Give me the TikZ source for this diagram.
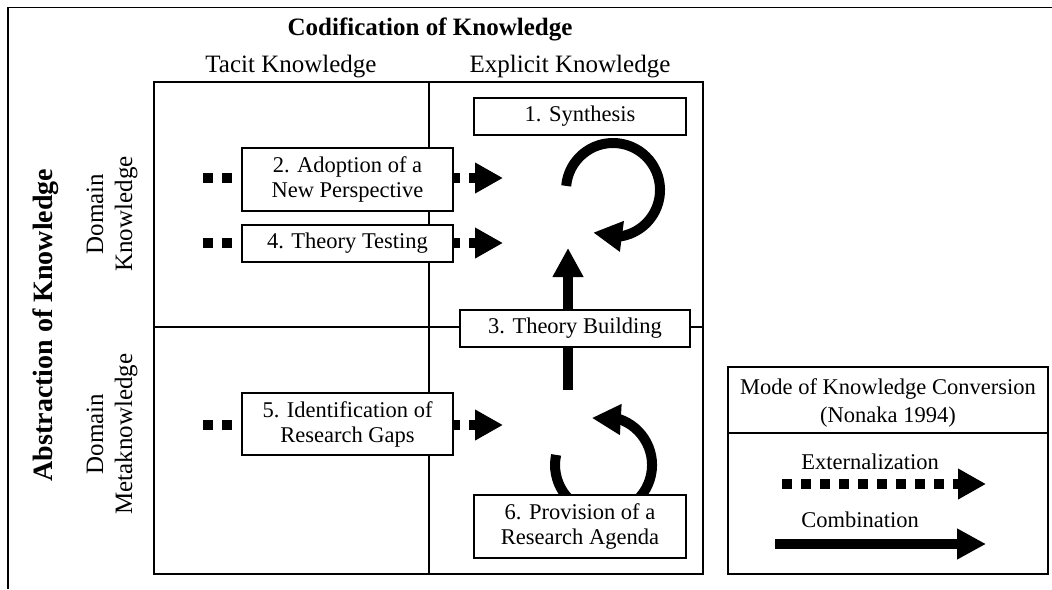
\documentclass[tikz,border=0pt]{standalone}
\usepackage{fontspec}
\setmainfont{Liberation Serif}
\usetikzlibrary{arrows.meta,bending}
\begin{document}
\begin{tikzpicture}[x=1pt,y=1pt,
  frame/.style={line width=1.3pt},
  stage/.style={draw,line width=1.3pt,fill=white,align=center,inner sep=0pt,
    font=\fontsize{22.5}{25}\selectfont},
  ext/.style={line width=10pt,dash pattern=on 10pt off 9pt,
    -{Triangle[width=29pt,length=28pt]}},
  comb/.style={line width=10pt,-{Triangle[width=29pt,length=29pt]}},
  head/.style={font=\fontsize{25}{28}\selectfont},
  bighead/.style={font=\bfseries\fontsize{25}{28}\selectfont},
  txt/.style={font=\fontsize{22.5}{28}\selectfont,align=center,inner sep=0pt},
  side/.style={font=\fontsize{25}{29}\selectfont,align=center,inner sep=0pt,rotate=90},
]
\useasboundingbox (0,0) rectangle (1052,-589);
% outer frame
\coordinate (f1) at (8,-589);
\coordinate (f2) at (8,-7.5);
\coordinate (f3) at (1052,-7.5);
\draw[frame] (f1) -- (f2) -- (f3);
% matrix
\coordinate (mtl) at (154,-82);
\coordinate (mbr) at (703,-574);
\coordinate (vt) at (429,-82);
\coordinate (vb) at (429,-574);
\coordinate (hl) at (154,-327);
\coordinate (hr) at (703,-327);
\draw[frame] (mtl) rectangle (mbr);
\draw[frame] (vt) -- (vb);
\draw[frame] (hl) -- (hr);
% headings
\node[bighead] (title) at (430,-29) {Codification of Knowledge};
\node[head] (tacit) at (291,-67) {Tacit Knowledge};
\node[head] (explicit) at (570,-67) {Explicit Knowledge};
\node[bighead,rotate=90,font=\bfseries\fontsize{28}{30}\selectfont] (abstr) at (46,-325) {Abstraction of Knowledge};
\node[side] (dk) at (112,-214) {Domain\\Knowledge};
\node[side] (dmk) at (112,-434) {Domain\\Metaknowledge};
% externalization arrows
\coordinate (e2s) at (203,-178);
\coordinate (e2e) at (503,-178);
\coordinate (e4s) at (203,-243);
\coordinate (e4e) at (503,-243);
\coordinate (e5s) at (203,-425);
\coordinate (e5e) at (503,-425);
\draw[ext] (e2s) -- (e2e);
\draw[ext] (e4s) -- (e4e);
\draw[ext] (e5s) -- (e5e);
% combination arrows
\coordinate (c3s) at (568,-390);
\coordinate (c3e) at (568,-248);
\draw[comb] (c3s) -- (c3e);
\coordinate (syn) at (566.2,-185.9);
\draw[comb] (syn) arc[start angle=175,end angle=-115,radius=47pt];
\coordinate (agd) at (556.1,-454.9);
\draw[comb] (agd) arc[start angle=168,end angle=464,radius=48.5pt];
% stages
\node[stage,minimum width=212pt,minimum height=37pt] (s1) at (580,-116.5) {1. Synthesis};
\node[stage,minimum width=211pt,minimum height=63pt] (s2) at (347.5,-179.5) {2. Adoption of a\\New Perspective};
\node[stage,minimum width=211pt,minimum height=37pt] (s4) at (347.5,-243.5) {4. Theory Testing};
\node[stage,minimum width=230pt,minimum height=37pt] (s3) at (575,-328.5) {3. Theory Building};
\node[stage,minimum width=211pt,minimum height=62pt] (s5) at (347.5,-424) {5. Identification of\\Research Gaps};
\node[stage,minimum width=212pt,minimum height=63pt] (s6) at (580,-526.5) {6. Provision of a\\Research Agenda};
% legend
\coordinate (ltl) at (728,-367);
\coordinate (lbr) at (1048,-574);
\coordinate (ldl) at (728,-433);
\coordinate (ldr) at (1048,-433);
\draw[frame] (ltl) rectangle (lbr);
\draw[frame] (ldl) -- (ldr);
\node[txt] (mode) at (888,-403) {Mode of Knowledge Conversion\\(Nonaka 1994)};
\node[txt] (extlab) at (870,-462) {Externalization};
\node[txt] (comblab) at (860,-520) {Combination};
\coordinate (lxs) at (782,-484);
\coordinate (lxe) at (986,-484);
\coordinate (lcs) at (775,-544);
\coordinate (lce) at (986,-544);
\draw[ext] (lxs) -- (lxe);
\draw[comb] (lcs) -- (lce);
\end{tikzpicture}
\end{document}
